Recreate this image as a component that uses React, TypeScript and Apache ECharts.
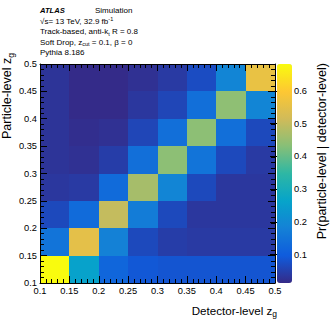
import React, { useEffect, useRef } from "react";
import * as echarts from "echarts";

// bin edges (both detector-level and particle-level z_g)
const BIN_EDGES = [0.1, 0.15, 0.2, 0.25, 0.3, 0.35, 0.4, 0.45, 0.5];

// Pr(particle-level | detector-level); rows = particle-level bins (bottom to top),
// columns = detector-level bins (left to right)
const ROW_010 = [0.682, 0.26, 0.12, 0.09, 0.085, 0.085, 0.085, 0.085];
const ROW_015 = [0.15, 0.55, 0.18, 0.065, 0.045, 0.04, 0.04, 0.04];
const ROW_020 = [0.065, 0.13, 0.5, 0.17, 0.065, 0.035, 0.035, 0.035];
const ROW_025 = [0.035, 0.04, 0.13, 0.466, 0.19, 0.065, 0.035, 0.035];
const ROW_030 = [0.03, 0.025, 0.045, 0.14, 0.438, 0.15, 0.065, 0.04];
const ROW_035 = [0.03, 0.02, 0.025, 0.06, 0.14, 0.438, 0.14, 0.065];
const ROW_040 = [0.03, 0.015, 0.015, 0.035, 0.06, 0.14, 0.44, 0.19];
const ROW_045 = [0.03, 0.015, 0.015, 0.025, 0.04, 0.07, 0.19, 0.56];
const MATRIX = [ROW_010, ROW_015, ROW_020, ROW_025, ROW_030, ROW_035, ROW_040, ROW_045];

const AXIS_TICKS = [0.1, 0.15, 0.2, 0.25, 0.3, 0.35, 0.4, 0.45, 0.5];
const AXIS_TICK_LABELS = ["0.1", "0.15", "0.2", "0.25", "0.3", "0.35", "0.4", "0.45", "0.5"];

const CB_MIN = 0.013;
const CB_MAX = 0.682;
const CB_TICKS = [0.1, 0.2, 0.3, 0.4, 0.5, 0.6];
const CB_TICK_LABELS = ["0.1", "0.2", "0.3", "0.4", "0.5", "0.6"];

// ROOT kBird palette
const BIRD = ["#352a87", "#0f5cdd", "#1481d6", "#06a4ca", "#2eb7a4", "#87bf77", "#d1bb59", "#fec832", "#f9fb0e"];

const FONT = "Liberation Sans, Arial, Helvetica, sans-serif";

const tickLabel = (v: number) => {
  const i = AXIS_TICKS.findIndex((t) => Math.abs(t - v) < 1e-6);
  return i >= 0 ? AXIS_TICK_LABELS[i] : "";
};
const cbLabel = (v: number) => {
  const i = CB_TICKS.findIndex((t) => Math.abs(t - v) < 1e-6);
  return i >= 0 ? CB_TICK_LABELS[i] : "";
};

export default function App() {
  const ref = useRef<HTMLDivElement>(null);
  useEffect(() => {
    if (!ref.current) return;
    const chart = echarts.init(ref.current, undefined, { renderer: "svg" });
    const data: number[][] = [];
    MATRIX.forEach((row, i) => {
      row.forEach((v, j) => {
        data.push([BIN_EDGES[j], BIN_EDGES[j + 1], BIN_EDGES[i], BIN_EDGES[i + 1], v]);
      });
    });
    const mainAxisCommon = {
      type: "value" as const,
      min: 0.1,
      max: 0.5,
      interval: 0.05,
      gridIndex: 0,
      z: 10,
      splitLine: { show: false },
      axisLine: { show: true, lineStyle: { color: "#000", width: 1 } },
      axisTick: { show: true, inside: true, length: 7, lineStyle: { color: "#000" } },
      minorTick: { show: true, splitNumber: 5, length: 4, lineStyle: { color: "#000" } },
    };
    const subRich = { fontSize: 8.5, fontFamily: FONT, lineHeight: 6, verticalAlign: "bottom" as const };
    const option: any = {
      animation: false,
      backgroundColor: "#fff",
      grid: [
        { left: 40, top: 64, width: 235, height: 219 },
        { left: 277, top: 64, width: 15, height: 219 },
      ],
      xAxis: [
        {
          ...mainAxisCommon,
          position: "bottom",
          axisLabel: { show: true, fontSize: 9.3, fontFamily: FONT, color: "#000", margin: 3, formatter: tickLabel },
        },
        { ...mainAxisCommon, position: "top", axisLabel: { show: false } },
        { type: "value", gridIndex: 1, show: false, min: 0, max: 1 },
      ],
      yAxis: [
        {
          ...mainAxisCommon,
          position: "left",
          axisLabel: { show: true, fontSize: 9.3, fontFamily: FONT, color: "#000", margin: 3, formatter: tickLabel },
        },
        { ...mainAxisCommon, position: "right", axisLabel: { show: false } },
        {
          type: "value",
          gridIndex: 1,
          position: "right",
          min: CB_MIN,
          max: CB_MAX,
          z: 10,
          splitLine: { show: false },
          axisLine: { show: false },
          axisTick: { show: true, inside: true, length: 7, customValues: CB_TICKS, lineStyle: { color: "#000" } },
          axisLabel: {
            show: true,
            customValues: CB_TICKS,
            fontSize: 9.3,
            fontFamily: FONT,
            color: "#000",
            margin: 2,
            formatter: cbLabel,
          },
        },
      ],
      visualMap: {
        type: "continuous",
        seriesIndex: 0,
        dimension: 4,
        min: CB_MIN,
        max: CB_MAX,
        orient: "vertical",
        left: 277,
        top: 64,
        itemWidth: 15,
        itemHeight: 219,
        padding: 0,
        calculable: false,
        hoverLink: false,
        inRange: { color: BIRD },
      },
      series: [
        {
          type: "custom",
          xAxisIndex: 0,
          yAxisIndex: 0,
          encode: { x: [0, 1], y: [2, 3] },
          data,
          renderItem: (params: any, api: any) => {
            const a = api.coord([api.value(0), api.value(3)]);
            const b = api.coord([api.value(1), api.value(2)]);
            const x = Math.round(a[0]);
            const y = Math.round(a[1]);
            return {
              type: "rect",
              shape: { x, y, width: Math.round(b[0]) - x, height: Math.round(b[1]) - y },
              style: { fill: api.visual("color"), stroke: null },
            };
          },
        },
      ],
      graphic: [
        {
          type: "text",
          x: 40,
          y: 10,
          style: { text: "ATLAS", fontSize: 7.6, fontWeight: "bold", fontStyle: "italic", fontFamily: FONT, fill: "#000", verticalAlign: "middle" },
        },
        {
          type: "text",
          x: 95,
          y: 10,
          style: { text: "Simulation", fontSize: 8, fontFamily: FONT, fill: "#000", verticalAlign: "middle" },
        },
        {
          type: "text",
          x: 40,
          y: 21,
          style: {
            text: "√s= 13 TeV, 32.9 fb{sup|-1}",
            fontSize: 8,
            fontFamily: FONT,
            fill: "#000",
            verticalAlign: "middle",
            lineHeight: 10,
            rich: { sup: { fontSize: 5.5, fontFamily: FONT, lineHeight: 4, verticalAlign: "top" } },
          },
        },
        {
          type: "text",
          x: 40,
          y: 31.5,
          style: {
            text: "Track-based, anti-k{sub|t} R = 0.8",
            fontSize: 8,
            fontFamily: FONT,
            fill: "#000",
            verticalAlign: "middle",
            lineHeight: 10,
            rich: { sub: { fontSize: 5.5, fontFamily: FONT, lineHeight: 4, verticalAlign: "bottom" } },
          },
        },
        {
          type: "text",
          x: 40,
          y: 42,
          style: {
            text: "Soft Drop, z{sub|cut} = 0.1, β = 0",
            fontSize: 8,
            fontFamily: FONT,
            fill: "#000",
            verticalAlign: "middle",
            lineHeight: 10,
            rich: { sub: { fontSize: 5.5, fontFamily: FONT, lineHeight: 4, verticalAlign: "bottom" } },
          },
        },
        {
          type: "text",
          x: 40,
          y: 52.5,
          style: { text: "Pythia 8.186", fontSize: 8, fontFamily: FONT, fill: "#000", verticalAlign: "middle" },
        },
        {
          type: "text",
          x: 277,
          y: 310,
          style: {
            text: "Detector-level z{sub|g}",
            fontSize: 11.6,
            fontFamily: FONT,
            fill: "#000",
            align: "right",
            verticalAlign: "middle",
            lineHeight: 16,
            rich: { sub: subRich },
          },
        },
        {
          type: "text",
          x: 7,
          y: 53,
          rotation: Math.PI / 2,
          style: {
            text: "Particle-level z{sub|g}",
            fontSize: 12.5,
            fontFamily: FONT,
            fill: "#000",
            align: "right",
            verticalAlign: "middle",
            lineHeight: 16,
            rich: { sub: subRich },
          },
        },
        {
          type: "text",
          x: 322,
          y: 63,
          rotation: Math.PI / 2,
          style: {
            text: "Pr(particle-level | detector-level)",
            fontSize: 12.5,
            fontFamily: FONT,
            fill: "#000",
            align: "right",
            verticalAlign: "middle",
          },
        },
      ],
    };
    chart.setOption(option);
    return () => chart.dispose();
  }, []);
  return <div ref={ref} style={{ position: "fixed", left: 0, top: 0, width: 332, height: 322 }} />;
}
